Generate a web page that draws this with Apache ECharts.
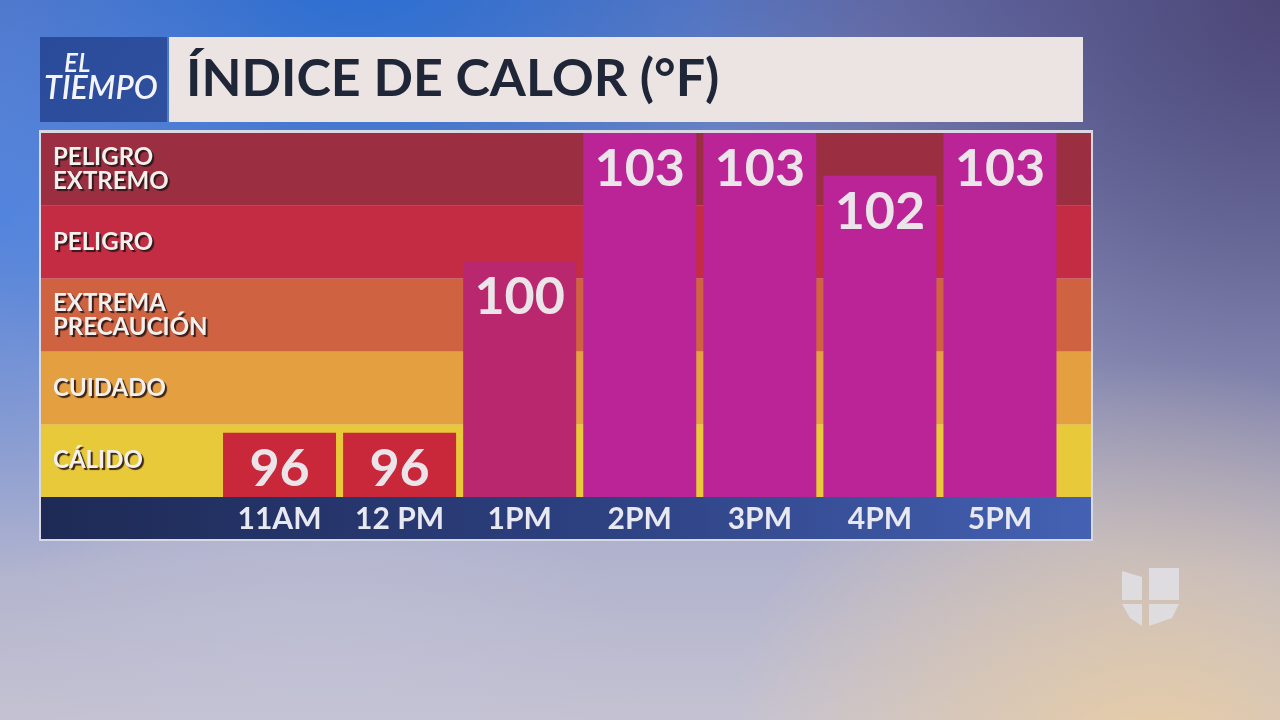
<!DOCTYPE html>
<html><head><meta charset="utf-8">
<script src="https://cdn.jsdelivr.net/npm/echarts@6/dist/echarts.min.js"></script>
<style>html,body{margin:0;padding:0;}#c{width:1280px;height:720px;}</style>
</head><body><div id="c"></div>
<script>
const hours = ['11AM', '12 PM', '1PM', '2PM', '3PM', '4PM', '5PM'];
const heatIndex = [96, 96, 100, 103, 103, 102, 103];
const barColors = ['#c8283a', '#c8283a', '#b9286f', '#bb2497', '#bb2497', '#bb2497', '#bb2497'];
// bands listed bottom to top
const bandNames = ['CÁLIDO', 'CUIDADO', 'EXTREMA\nPRECAUCIÓN', 'PELIGRO', 'PELIGRO\nEXTREMO'];
const bandColors = ['#e8c93a', '#e49f40', '#cf6341', '#c32c43', '#9b2f41'];
const titleText = 'ÍNDICE DE CALOR (°F)';

const chart = echarts.init(document.getElementById('c'));
const FONT = 'Lato';
function radial(x, y, r, c0, c1) {
  return {type: 'rect', z: -10, silent: true, shape: {x: 0, y: 0, width: 1280, height: 720},
    style: {fill: {type: 'radial', x: x, y: y, r: r, colorStops: [
      {offset: 0, color: c0}, {offset: 1, color: c1}]}}};
}
chart.setOption({
  backgroundColor: {
    type: 'linear', x: 0, y: 0, x2: 0, y2: 1,
    colorStops: [
      {offset: 0, color: '#6a78b8'},
      {offset: 0.5, color: '#9aa0c8'},
      {offset: 1, color: '#c4c2d2'}
    ]
  },
  animation: false,
  graphic: [
    radial(0.28, -0.1, 0.75, 'rgba(35,110,215,0.95)', 'rgba(35,110,215,0)'),
    radial(0.0, 0.3, 0.5, 'rgba(70,130,230,0.75)', 'rgba(70,130,230,0)'),
    radial(1.0, 0.0, 0.8, 'rgba(75,68,115,0.95)', 'rgba(75,68,115,0)'),
    radial(0.9, 1.1, 0.6, 'rgba(235,205,160,0.95)', 'rgba(235,205,160,0)'),
    radial(0.25, 1.0, 0.45, 'rgba(195,195,215,0.6)', 'rgba(195,195,215,0)'),
    // EL TIEMPO box
    {type: 'rect', shape: {x: 40, y: 37, width: 127, height: 85},
     style: {fill: {type: 'linear', x: 0, y: 0, x2: 1, y2: 1, colorStops: [
       {offset: 0, color: '#2a4a9a'}, {offset: 1, color: '#2f4f9f'}]}}},
    {type: 'text', style: {x: 64, y: 51, text: 'EL', fill: '#f4f4f8', font: 'italic 600 26px Lato', verticalAlign: 'top'}},
    {type: 'text', style: {x: 44, y: 73, text: 'TIEMPO', fill: '#f4f4f8', font: 'italic 600 32px Lato', verticalAlign: 'top'}},
    // title bar
    {type: 'rect', shape: {x: 169, y: 37, width: 914, height: 85}, style: {fill: '#ece3e3'}},
    // panel border
    {type: 'rect', z: 0, shape: {x: 39, y: 130, width: 1054, height: 411},
     style: {fill: '#d9d9e4'}},
    // x axis strip
    {type: 'rect', z: 1, shape: {x: 41, y: 497, width: 1050, height: 42},
     style: {fill: {type: 'linear', x: 0, y: 0, x2: 1, y2: 0, colorStops: [
       {offset: 0, color: '#1e2a55'}, {offset: 0.5, color: '#2c3f7e'}, {offset: 1, color: '#4461b3'}]}}},
    // logo
    {type: 'group', x: 1122, y: 568, z: 1, children: [
      {type: 'polygon', shape: {points: [[0,3],[20,9],[20,32],[0,32]]}, style: {fill: 'rgba(225,225,230,0.85)'}},
      {type: 'polygon', shape: {points: [[27,0],[57,0],[57,32],[27,32]]}, style: {fill: 'rgba(225,225,230,0.85)'}},
      {type: 'polygon', shape: {points: [[0,36],[20,36],[20,58],[8,50]]}, style: {fill: 'rgba(225,225,230,0.85)'}},
      {type: 'polygon', shape: {points: [[27,36],[57,36],[50,50],[27,58]]}, style: {fill: 'rgba(225,225,230,0.85)'}}
    ]}
  ],
  title: {
    text: titleText, left: 181, top: 48,
    textStyle: {fontFamily: FONT, fontWeight: 'bold', fontSize: 52, color: '#1f2638'}
  },
  grid: [
    {left: 41, top: 133, width: 1050, height: 364},
    {left: 219.5, top: 133, width: 840.5, height: 364}
  ],
  xAxis: [
    {gridIndex: 0, type: 'value', min: 0, max: 1, show: false},
    {gridIndex: 1, type: 'category', data: hours, z: 20,
     axisLine: {show: false}, axisTick: {show: false},
     axisLabel: {margin: 7, fontFamily: FONT, fontWeight: 'bold', fontSize: 30, color: '#e8e8f0'}}
  ],
  yAxis: [
    {gridIndex: 0, type: 'category', data: bandNames, show: false},
    {gridIndex: 1, type: 'value', min: 94.5, max: 103, show: false}
  ],
  series: [
    {type: 'bar', xAxisIndex: 0, yAxisIndex: 0, barWidth: '100%', silent: true,
     data: bandNames.map((n, i) => ({value: 1, itemStyle: {color: bandColors[i]}})),
     label: {show: true, position: 'insideLeft', distance: 12, formatter: p => p.name,
       fontFamily: FONT, fontWeight: 'bold', fontSize: 24, lineHeight: 24, color: '#f4f0ee',
       textShadowColor: 'rgba(40,20,20,0.9)', textShadowOffsetX: 2, textShadowOffsetY: 2, textShadowBlur: 1}},
    {type: 'bar', xAxisIndex: 1, yAxisIndex: 1, barWidth: 113, z: 3,
     data: heatIndex.map((v, i) => ({value: v, itemStyle: {color: barColors[i]}})),
     label: {show: true, position: 'insideTop', distance: 10,
       fontFamily: FONT, fontWeight: 'bold', fontSize: 52, color: '#ebe5ea'}}
  ]
});
</script></body></html>
